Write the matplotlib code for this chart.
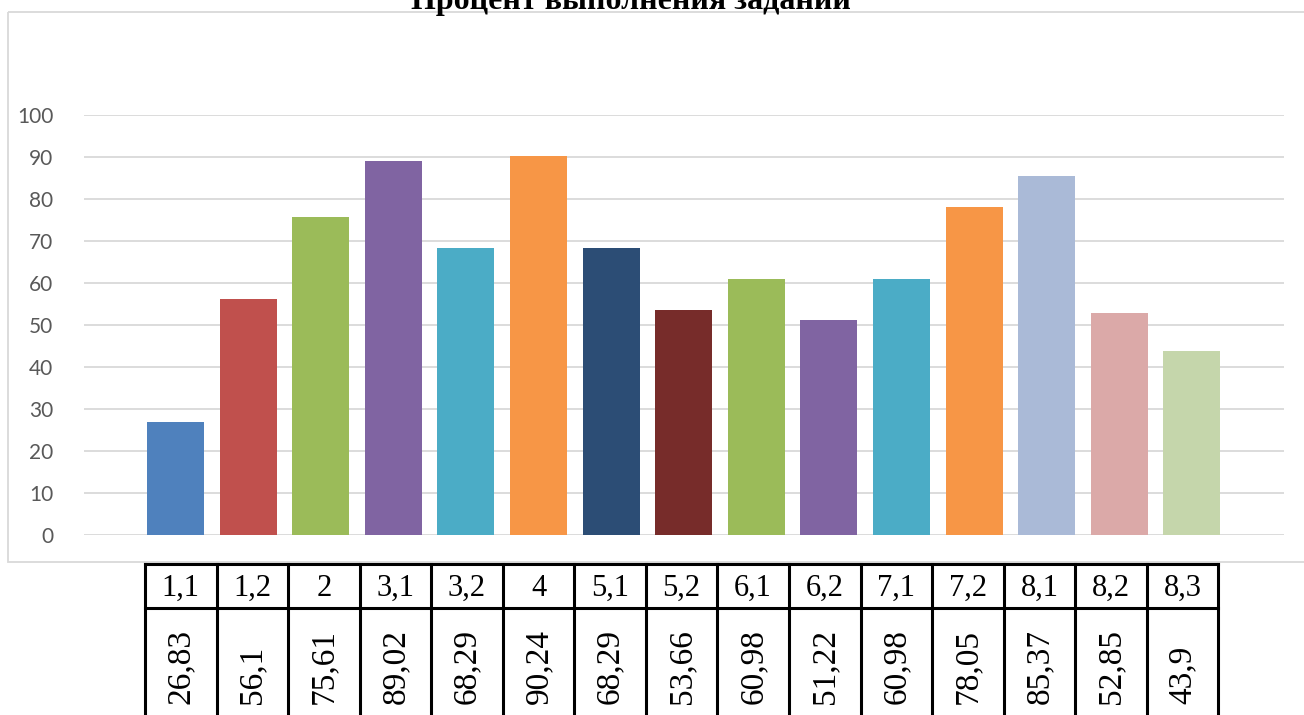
import matplotlib
matplotlib.use('Agg')
import matplotlib.pyplot as plt
from matplotlib.patches import Rectangle

# данные
tasks = ['1,1', '1,2', '2', '3,1', '3,2', '4', '5,1', '5,2', '6,1', '6,2',
         '7,1', '7,2', '8,1', '8,2', '8,3']
percent = [26.83, 56.1, 75.61, 89.02, 68.29, 90.24, 68.29, 53.66, 60.98,
           51.22, 60.98, 78.05, 85.37, 52.85, 43.9]
percent_text = ['26,83', '56,1', '75,61', '89,02', '68,29', '90,24', '68,29',
                '53,66', '60,98', '51,22', '60,98', '78,05', '85,37', '52,85', '43,9']
colors = ['#4F81BD', '#C0504D', '#9BBB59', '#8064A2', '#4BACC6', '#F79646',
          '#2C4D75', '#772C2A', '#9BBB59', '#8064A2', '#4BACC6', '#F79646',
          '#AABAD7', '#DBA9A8', '#C5D6AB']

W, H = 1304, 715
fig = plt.figure(figsize=(W / 100, H / 100), dpi=100)

# overlay in pixel coordinates for frame, title and table
ov = fig.add_axes([0, 0, 1, 1])
ov.set_xlim(0, W)
ov.set_ylim(H, 0)
ov.axis('off')
ov.add_patch(Rectangle((8, 12), W + 10, 550, fill=False, edgecolor='#D9D9D9',
                       lw=1.3, clip_on=False))
ov.text(631, 9, 'Процент выполнения заданий', ha='center', va='baseline',
        fontsize=23, fontweight='bold', family='Liberation Serif', color='black')

# main chart
ax = fig.add_axes([84 / W, 1 - 535 / H, 1200 / W, 420 / H])
x = list(range(len(percent)))
ax.bar(x, percent, width=0.785, color=colors, zorder=3)
ax.set_ylim(0, 100)
ax.set_xlim(-1.26, 15.27)
ax.set_yticks(range(0, 101, 10))
ax.set_xticks([])
ax.yaxis.grid(True, color='#D9D9D9', lw=1.3, zorder=0)
for s in ax.spines.values():
    s.set_visible(False)
ax.tick_params(axis='y', length=0, pad=22, labelsize=15, labelcolor='#595959')
for lab in ax.get_yticklabels():
    lab.set_family('Lato')
ax.patch.set_alpha(0)

# table below the chart
x0, cw = 145, 71.55
top, mid = 564, 608
n = len(tasks)
ov.plot([x0, x0 + n * cw], [top, top], color='black', lw=2.2, solid_capstyle='projecting')
ov.plot([x0, x0 + n * cw], [mid, mid], color='black', lw=2.2, solid_capstyle='projecting')
for i in range(n + 1):
    ov.plot([x0 + i * cw, x0 + i * cw], [top, H + 5], color='black', lw=2.2, clip_on=False)
for i in range(n):
    cx = x0 + (i + 0.5) * cw
    ov.text(cx, 588, tasks[i], ha='center', va='center', fontsize=22,
            family='Liberation Serif')
    ov.text(cx, 704, percent_text[i], ha='center', va='bottom', rotation=90,
            fontsize=24, family='Liberation Serif')

fig.savefig('out.png', dpi=100)
